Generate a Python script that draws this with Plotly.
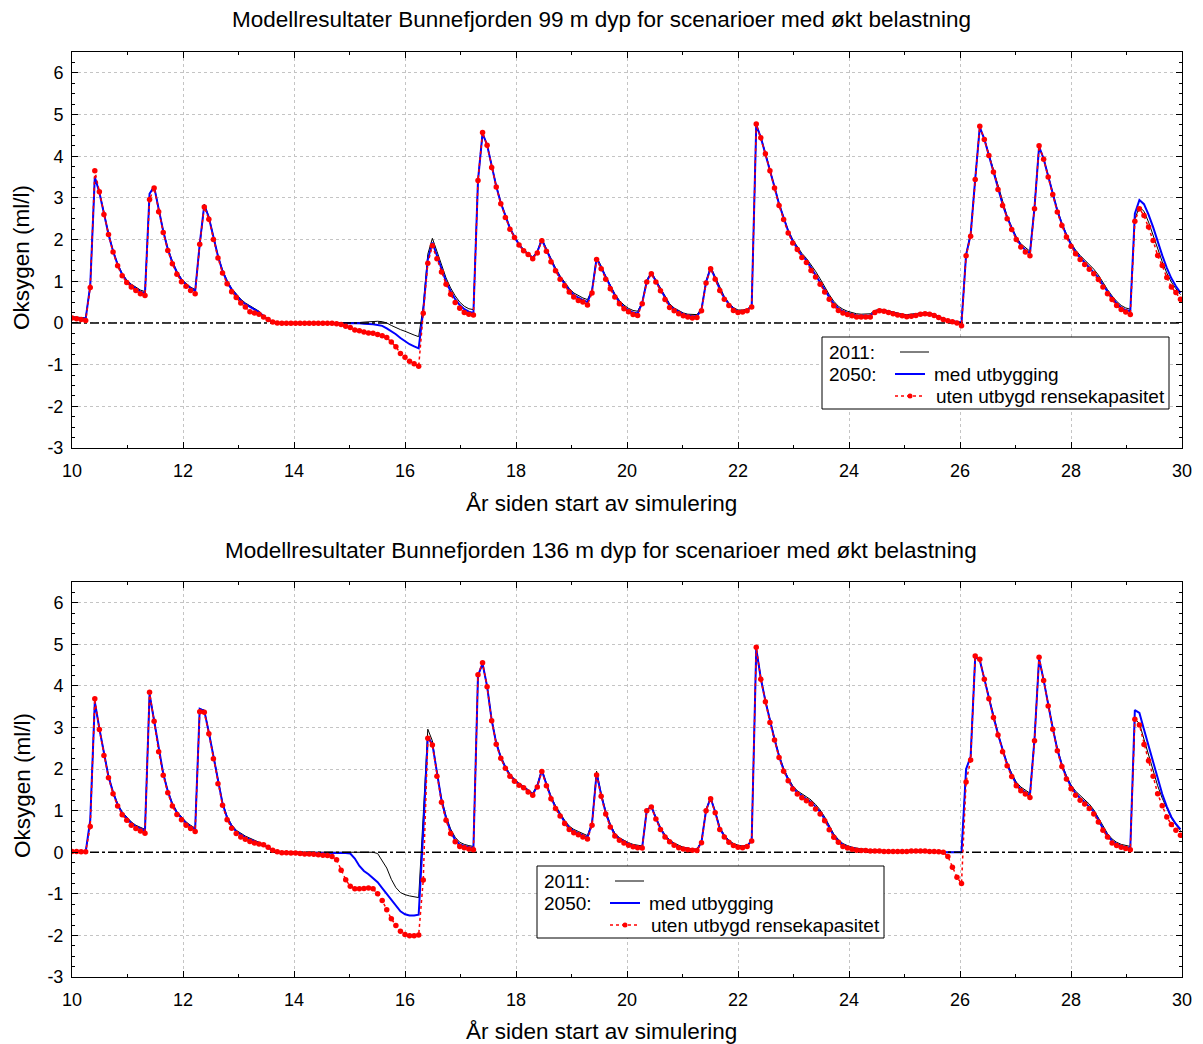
import numpy as np
import plotly.graph_objects as go

# ---------------- text ----------------
TOP_TITLE = "Modellresultater Bunnefjorden 99 m dyp for scenarioer med økt belastning"
BOT_TITLE = "Modellresultater Bunnefjorden 136 m dyp for scenarioer med økt belastning"
X_TITLE = "År siden start av simulering"
Y_TITLE = "Oksygen (ml/l)"
LEG_2011 = "2011:"
LEG_2050 = "2050:"
LEG_MED = "med utbygging"
LEG_UTEN = "uten utbygd rensekapasitet"

X_TICKS = [10, 12, 14, 16, 18, 20, 22, 24, 26, 28, 30]
X_TICK_LABELS = ["10", "12", "14", "16", "18", "20", "22", "24", "26", "28", "30"]
Y_TICKS = [-3, -2, -1, 0, 1, 2, 3, 4, 5, 6]
Y_TICK_LABELS = ["-3", "-2", "-1", "0", "1", "2", "3", "4", "5", "6"]

# time axis: one model output every 30 days, starting at year 10
START_YEAR = 10
STEP_DAYS = 30

# ---------------- data: 99 m ----------------
top_2011 = [
    0.15, 0.14, 0.13, 0.12, 0.90, 3.50, 3.15, 2.62, 2.15, 1.74,
    1.42, 1.19, 1.03, 0.93, 0.85, 0.79, 0.75, 3.10, 3.28, 2.72,
    2.22, 1.80, 1.48, 1.24, 1.06, 0.95, 0.86, 0.80, 1.90, 2.85,
    2.55, 2.05, 1.62, 1.27, 1.02, 0.83, 0.69, 0.57, 0.48, 0.41,
    0.35, 0.28, 0.18, 0.08, 0.02, 0.00, 0.00, 0.00, 0.00, 0.00,
    0.00, 0.00, 0.00, 0.00, 0.00, 0.00, 0.00, 0.00, 0.00, 0.00,
    0.01, 0.01, 0.01, 0.01, 0.02, 0.03, 0.04, 0.04, 0.03, 0.00,
    -0.06, -0.12, -0.16, -0.20, -0.25, -0.29, -0.33, 0.40, 1.65, 2.03,
    1.72, 1.38, 1.08, 0.84, 0.65, 0.50, 0.40, 0.34, 0.32, 3.42,
    4.55, 4.28, 3.76, 3.30, 2.90, 2.57, 2.29, 2.08, 1.90, 1.76,
    1.67, 1.58, 1.72, 2.03, 1.78, 1.53, 1.32, 1.13, 0.97, 0.83,
    0.72, 0.65, 0.60, 0.56, 0.80, 1.58, 1.37, 1.12, 0.90, 0.70,
    0.54, 0.43, 0.35, 0.30, 0.28, 0.50, 1.03, 1.22, 1.03, 0.83,
    0.63, 0.46, 0.36, 0.29, 0.24, 0.21, 0.20, 0.20, 0.35, 1.00,
    1.35, 1.10, 0.84, 0.63, 0.48, 0.37, 0.31, 0.31, 0.33, 0.42,
    4.75, 4.46, 4.08, 3.68, 3.28, 2.87, 2.54, 2.23, 2.00, 1.84,
    1.67, 1.55, 1.40, 1.24, 1.06, 0.86, 0.68, 0.52, 0.40, 0.33,
    0.28, 0.25, 0.22, 0.21, 0.21, 0.22, 0.30, 0.33, 0.32, 0.29,
    0.26, 0.23, 0.21, 0.20, 0.21, 0.22, 0.24, 0.25, 0.24, 0.21,
    0.16, 0.11, 0.07, 0.04, 0.02, 0.01, 1.65, 2.15, 3.45, 4.68,
    4.42, 4.05, 3.66, 3.25, 2.88, 2.56, 2.30, 2.07, 1.90, 1.80,
    1.72, 2.80, 4.22, 3.95, 3.54, 3.13, 2.72, 2.40, 2.13, 1.92,
    1.75, 1.62, 1.51, 1.40, 1.29, 1.15, 0.97, 0.80, 0.65, 0.52,
    0.42, 0.36, 0.33, 2.50, 2.78, 2.68, 2.42, 2.10, 1.76, 1.47,
    1.20, 0.98, 0.82, 0.68,
]
top_2050_med = [
    0.13, 0.12, 0.11, 0.10, 0.90, 3.50, 3.13, 2.60, 2.13, 1.72,
    1.40, 1.16, 1.00, 0.90, 0.82, 0.75, 0.71, 3.10, 3.27, 2.70,
    2.20, 1.77, 1.45, 1.21, 1.03, 0.92, 0.83, 0.76, 1.90, 2.83,
    2.53, 2.03, 1.60, 1.24, 0.99, 0.80, 0.66, 0.54, 0.45, 0.38,
    0.32, 0.26, 0.16, 0.07, 0.02, 0.00, 0.00, 0.00, 0.00, 0.00,
    0.00, 0.00, 0.00, 0.00, 0.00, 0.00, 0.00, 0.00, 0.00, -0.01,
    -0.01, -0.01, -0.01, -0.01, -0.02, -0.02, -0.03, -0.05, -0.07, -0.13,
    -0.19, -0.27, -0.36, -0.44, -0.51, -0.56, -0.61, 0.30, 1.52, 1.93,
    1.62, 1.29, 0.99, 0.76, 0.57, 0.43, 0.33, 0.27, 0.24, 3.42,
    4.55, 4.27, 3.74, 3.28, 2.88, 2.55, 2.27, 2.06, 1.88, 1.74,
    1.65, 1.56, 1.70, 2.00, 1.75, 1.50, 1.28, 1.09, 0.93, 0.79,
    0.67, 0.60, 0.55, 0.50, 0.77, 1.55, 1.33, 1.08, 0.86, 0.66,
    0.50, 0.38, 0.31, 0.25, 0.23, 0.48, 1.00, 1.20, 1.00, 0.80,
    0.60, 0.42, 0.33, 0.26, 0.21, 0.18, 0.16, 0.16, 0.32, 0.98,
    1.32, 1.07, 0.81, 0.60, 0.45, 0.34, 0.28, 0.28, 0.31, 0.40,
    4.75, 4.45, 4.07, 3.66, 3.26, 2.85, 2.51, 2.20, 1.96, 1.80,
    1.62, 1.50, 1.33, 1.17, 1.00, 0.80, 0.62, 0.46, 0.35, 0.28,
    0.24, 0.21, 0.18, 0.17, 0.17, 0.18, 0.27, 0.31, 0.30, 0.27,
    0.24, 0.21, 0.19, 0.17, 0.18, 0.20, 0.22, 0.23, 0.22, 0.19,
    0.14, 0.09, 0.06, 0.04, 0.02, 0.01, 1.63, 2.12, 3.45, 4.70,
    4.41, 4.03, 3.64, 3.22, 2.85, 2.53, 2.27, 2.03, 1.86, 1.75,
    1.67, 2.77, 4.23, 3.94, 3.52, 3.10, 2.69, 2.37, 2.10, 1.88,
    1.70, 1.57, 1.45, 1.34, 1.23, 1.09, 0.91, 0.75, 0.60, 0.47,
    0.37, 0.31, 0.28, 2.62, 2.95, 2.85, 2.60, 2.30, 1.95, 1.62,
    1.32, 1.07, 0.88, 0.72,
]
top_2050_uten = [
    0.12, 0.10, 0.08, 0.06, 0.85, 3.65, 3.15, 2.60, 2.12, 1.70,
    1.37, 1.13, 0.97, 0.86, 0.78, 0.70, 0.66, 2.96, 3.24, 2.67,
    2.17, 1.74, 1.42, 1.17, 0.99, 0.88, 0.78, 0.70, 1.89, 2.78,
    2.49, 2.00, 1.56, 1.20, 0.94, 0.75, 0.61, 0.48, 0.38, 0.27,
    0.24, 0.21, 0.14, 0.08, 0.02, 0.00, -0.01, -0.01, -0.01, -0.01,
    -0.01, -0.01, -0.01, -0.01, -0.01, -0.01, -0.01, -0.01, -0.02, -0.04,
    -0.08, -0.11, -0.17, -0.19, -0.22, -0.24, -0.25, -0.28, -0.31, -0.35,
    -0.46, -0.57, -0.73, -0.82, -0.92, -0.98, -1.04, 0.23, 1.43, 1.85,
    1.54, 1.22, 0.93, 0.69, 0.49, 0.35, 0.25, 0.21, 0.19, 3.42,
    4.57, 4.26, 3.73, 3.26, 2.86, 2.53, 2.25, 2.05, 1.87, 1.73,
    1.64, 1.54, 1.68, 1.97, 1.72, 1.47, 1.25, 1.05, 0.89, 0.74,
    0.62, 0.54, 0.50, 0.43, 0.72, 1.52, 1.30, 1.05, 0.82, 0.62,
    0.46, 0.34, 0.27, 0.20, 0.18, 0.46, 0.98, 1.18, 0.98, 0.77,
    0.56, 0.37, 0.29, 0.22, 0.17, 0.14, 0.12, 0.13, 0.29, 0.96,
    1.30, 1.05, 0.78, 0.57, 0.42, 0.30, 0.25, 0.26, 0.29, 0.38,
    4.77, 4.44, 4.06, 3.65, 3.24, 2.82, 2.48, 2.16, 1.92, 1.76,
    1.57, 1.45, 1.26, 1.10, 0.93, 0.74, 0.57, 0.41, 0.30, 0.24,
    0.20, 0.17, 0.14, 0.14, 0.14, 0.14, 0.25, 0.29, 0.28, 0.25,
    0.22, 0.19, 0.17, 0.15, 0.16, 0.18, 0.21, 0.22, 0.21, 0.18,
    0.13, 0.08, 0.05, 0.03, 0.00, -0.07, 1.61, 2.08, 3.44, 4.72,
    4.40, 4.02, 3.62, 3.20, 2.82, 2.50, 2.24, 2.00, 1.82, 1.70,
    1.61, 2.74, 4.25, 3.93, 3.50, 3.08, 2.66, 2.34, 2.06, 1.84,
    1.66, 1.52, 1.40, 1.29, 1.18, 1.04, 0.86, 0.70, 0.56, 0.42,
    0.32, 0.26, 0.20, 2.44, 2.74, 2.58, 2.30, 1.98, 1.62, 1.38,
    1.09, 0.86, 0.73, 0.57,
]

# ---------------- data: 136 m ----------------
bot_2011 = [
    0.02, 0.02, 0.02, 0.02, 0.75, 3.60, 2.98, 2.37, 1.84, 1.46,
    1.17, 0.97, 0.84, 0.73, 0.65, 0.59, 0.55, 3.80, 3.20, 2.48,
    1.91, 1.49, 1.18, 0.98, 0.85, 0.73, 0.65, 0.58, 3.45, 3.42,
    2.90, 2.30, 1.72, 1.20, 0.86, 0.66, 0.53, 0.45, 0.39, 0.34,
    0.29, 0.24, 0.19, 0.12, 0.05, 0.02, 0.01, 0.01, 0.01, 0.00,
    0.00, 0.00, 0.00, 0.00, 0.00, 0.00, 0.00, 0.00, 0.00, 0.00,
    0.00, 0.00, 0.00, 0.00, 0.00, 0.00, 0.00, -0.03, -0.20, -0.38,
    -0.65, -0.85, -0.97, -1.02, -1.05, -1.07, -1.09, 0.90, 2.96, 2.68,
    1.92, 1.30, 0.87, 0.56, 0.36, 0.24, 0.19, 0.16, 0.14, 4.25,
    4.52, 4.00, 3.20, 2.65, 2.31, 2.07, 1.88, 1.76, 1.66, 1.59,
    1.50, 1.42, 1.62, 2.00, 1.66, 1.35, 1.12, 0.94, 0.77, 0.63,
    0.55, 0.50, 0.45, 0.40, 0.72, 1.95, 1.42, 0.99, 0.68, 0.46,
    0.35, 0.28, 0.23, 0.19, 0.17, 0.15, 1.02, 1.12, 0.84, 0.60,
    0.42, 0.30, 0.22, 0.16, 0.12, 0.10, 0.08, 0.07, 0.28, 1.03,
    1.32, 0.99, 0.60, 0.42, 0.29, 0.21, 0.17, 0.15, 0.17, 0.30,
    4.90, 4.20, 3.66, 3.17, 2.75, 2.34, 2.02, 1.79, 1.60, 1.48,
    1.40, 1.33, 1.26, 1.15, 1.02, 0.85, 0.63, 0.44, 0.31, 0.21,
    0.16, 0.12, 0.10, 0.08, 0.07, 0.06, 0.05, 0.05, 0.04, 0.04,
    0.03, 0.03, 0.03, 0.02, 0.02, 0.02, 0.02, 0.02, 0.01, 0.01,
    0.01, 0.00, 0.00, 0.00, 0.00, 0.00, 2.00, 2.30, 4.70, 4.62,
    4.18, 3.72, 3.28, 2.87, 2.48, 2.15, 1.90, 1.69, 1.57, 1.49,
    1.42, 2.75, 4.65, 4.15, 3.56, 3.01, 2.50, 2.13, 1.84, 1.62,
    1.47, 1.36, 1.27, 1.16, 1.02, 0.83, 0.62, 0.45, 0.32, 0.24,
    0.19, 0.16, 0.14, 3.20, 3.10, 2.72, 2.35, 1.97, 1.60, 1.30,
    1.05, 0.82, 0.66, 0.52,
]
bot_2050_med = [
    0.01, 0.01, 0.01, 0.01, 0.77, 3.62, 2.97, 2.35, 1.82, 1.44,
    1.14, 0.94, 0.81, 0.70, 0.62, 0.56, 0.52, 3.80, 3.18, 2.46,
    1.89, 1.47, 1.15, 0.95, 0.82, 0.70, 0.62, 0.55, 3.45, 3.40,
    2.88, 2.28, 1.70, 1.17, 0.83, 0.63, 0.50, 0.42, 0.36, 0.31,
    0.27, 0.23, 0.18, 0.11, 0.04, 0.01, -0.01, -0.01, -0.01, -0.01,
    -0.02, -0.02, -0.02, -0.02, -0.02, -0.02, -0.02, -0.02, -0.02, -0.02,
    -0.02, -0.03, -0.15, -0.33, -0.45, -0.53, -0.62, -0.72, -0.86, -1.00,
    -1.15, -1.30, -1.42, -1.49, -1.52, -1.52, -1.50, 0.50, 2.78, 2.60,
    1.87, 1.25, 0.82, 0.50, 0.30, 0.19, 0.15, 0.12, 0.10, 4.25,
    4.54, 3.99, 3.18, 2.62, 2.28, 2.04, 1.85, 1.73, 1.63, 1.57,
    1.47, 1.39, 1.59, 1.97, 1.63, 1.32, 1.08, 0.90, 0.73, 0.59,
    0.51, 0.46, 0.41, 0.36, 0.69, 1.90, 1.38, 0.95, 0.64, 0.42,
    0.32, 0.25, 0.20, 0.16, 0.14, 0.12, 1.01, 1.10, 0.82, 0.57,
    0.39, 0.27, 0.19, 0.13, 0.10, 0.08, 0.06, 0.05, 0.25, 1.01,
    1.30, 0.97, 0.57, 0.39, 0.26, 0.18, 0.14, 0.13, 0.15, 0.28,
    4.90, 4.18, 3.64, 3.14, 2.72, 2.31, 1.98, 1.75, 1.56, 1.44,
    1.35, 1.28, 1.21, 1.09, 0.97, 0.80, 0.58, 0.40, 0.27, 0.18,
    0.13, 0.10, 0.08, 0.06, 0.05, 0.04, 0.04, 0.03, 0.03, 0.02,
    0.02, 0.02, 0.02, 0.02, 0.02, 0.02, 0.01, 0.01, 0.01, 0.01,
    0.00, 0.00, 0.00, 0.00, 0.00, 0.00, 2.00, 2.30, 4.70, 4.62,
    4.17, 3.70, 3.26, 2.84, 2.45, 2.11, 1.86, 1.64, 1.52, 1.44,
    1.37, 2.72, 4.66, 4.14, 3.54, 2.98, 2.47, 2.09, 1.80, 1.58,
    1.42, 1.30, 1.21, 1.10, 0.97, 0.78, 0.57, 0.41, 0.27, 0.20,
    0.15, 0.12, 0.10, 3.42, 3.35, 2.95, 2.55, 2.15, 1.75, 1.40,
    1.10, 0.85, 0.68, 0.55,
]
bot_2050_uten = [
    0.02, 0.02, 0.01, 0.01, 0.62, 3.69, 2.95, 2.33, 1.79, 1.41,
    1.11, 0.90, 0.77, 0.65, 0.57, 0.51, 0.46, 3.85, 3.15, 2.42,
    1.85, 1.43, 1.11, 0.91, 0.78, 0.65, 0.57, 0.50, 3.38, 3.37,
    2.85, 2.25, 1.65, 1.13, 0.78, 0.58, 0.45, 0.37, 0.31, 0.26,
    0.22, 0.20, 0.18, 0.12, 0.05, 0.01, -0.01, -0.01, -0.02, -0.02,
    -0.03, -0.04, -0.04, -0.05, -0.06, -0.07, -0.08, -0.10, -0.18, -0.43,
    -0.66, -0.82, -0.88, -0.88, -0.87, -0.86, -0.88, -1.00, -1.16, -1.38,
    -1.60, -1.76, -1.90, -1.98, -2.01, -2.01, -1.99, -0.67, 2.74, 2.58,
    1.83, 1.20, 0.77, 0.45, 0.25, 0.14, 0.11, 0.08, 0.06, 4.27,
    4.56, 3.98, 3.16, 2.60, 2.26, 2.02, 1.83, 1.71, 1.61, 1.55,
    1.45, 1.37, 1.57, 1.94, 1.60, 1.29, 1.05, 0.87, 0.69, 0.55,
    0.47, 0.42, 0.37, 0.32, 0.65, 1.86, 1.35, 0.92, 0.61, 0.39,
    0.29, 0.22, 0.17, 0.13, 0.11, 0.10, 1.00, 1.09, 0.80, 0.55,
    0.37, 0.25, 0.17, 0.11, 0.08, 0.06, 0.05, 0.04, 0.23, 1.00,
    1.29, 0.95, 0.55, 0.37, 0.24, 0.16, 0.12, 0.11, 0.14, 0.27,
    4.93, 4.16, 3.62, 3.12, 2.70, 2.28, 1.95, 1.72, 1.52, 1.40,
    1.31, 1.24, 1.16, 1.04, 0.92, 0.76, 0.54, 0.36, 0.24, 0.14,
    0.10, 0.07, 0.05, 0.04, 0.04, 0.03, 0.03, 0.03, 0.02, 0.02,
    0.02, 0.02, 0.02, 0.02, 0.03, 0.03, 0.03, 0.03, 0.02, 0.02,
    0.01, 0.00, -0.10, -0.36, -0.60, -0.75, 1.69, 2.22, 4.72, 4.64,
    4.16, 3.69, 3.24, 2.82, 2.42, 2.08, 1.82, 1.60, 1.48, 1.40,
    1.32, 2.68, 4.69, 4.13, 3.52, 2.96, 2.44, 2.06, 1.76, 1.53,
    1.37, 1.25, 1.16, 1.05, 0.92, 0.73, 0.53, 0.37, 0.22, 0.16,
    0.12, 0.09, 0.06, 3.20, 3.06, 2.59, 2.20, 1.83, 1.41, 1.12,
    0.85, 0.67, 0.53, 0.41,
]

series_all = [top_2011, top_2050_med, top_2050_uten, bot_2011, bot_2050_med, bot_2050_uten]
n = len(top_2050_uten)
for s in series_all:
    if len(s) != n:
        raise SystemExit("length mismatch: " + str([len(q) for q in series_all]))

years = START_YEAR + np.arange(n) * STEP_DAYS / 365.0

# ---------------- layout geometry (pixels) ----------------
W, H = 1203, 1044
ML, MR, MT, MB = 72, 21, 52, 67
PW = W - ML - MR
PH = H - MT - MB


def fx(p):
    return (p - ML) / PW


def fy(p):
    return 1 - (p - MT) / PH


X_RANGE = [10, 30]
Y_RANGE = [-3, 6.5]
FONT = "Liberation Sans, Arial, sans-serif"
TICK_SIZE = 18
TITLE_SIZE = 22.5
LEG_SIZE = 19

fig = go.Figure()

panels = [
    ("x", "y", top_2011, top_2050_med, top_2050_uten),
    ("x2", "y2", bot_2011, bot_2050_med, bot_2050_uten),
]
for xa, ya, s2011, smed, suten in panels:
    fig.add_trace(go.Scatter(x=years, y=s2011, mode="lines", xaxis=xa, yaxis=ya,
                             line=dict(color="#000000", width=1)))
    fig.add_trace(go.Scatter(x=years, y=smed, mode="lines", xaxis=xa, yaxis=ya,
                             line=dict(color="#0000ff", width=2)))
    fig.add_trace(go.Scatter(x=X_RANGE, y=[0, 0], mode="lines", xaxis=xa, yaxis=ya,
                             line=dict(color="#000000", width=1.5, dash="dashdot")))
    fig.add_trace(go.Scatter(x=years, y=suten, mode="lines+markers", xaxis=xa, yaxis=ya,
                             line=dict(color="#ff0000", width=1.5, dash="dot"),
                             marker=dict(color="#ff0000", size=5.5)))

axis_common = dict(
    showline=True, linecolor="#000000", linewidth=1, mirror="allticks",
    ticks="inside", ticklen=6, tickcolor="#000000", tickwidth=1,
    showgrid=True, gridcolor="#c4c4c4", griddash="dot", gridwidth=1,
    zeroline=False, tickfont=dict(size=TICK_SIZE, color="#000000", family=FONT),
)
xcommon = dict(axis_common, range=X_RANGE, tickmode="array",
               tickvals=X_TICKS, ticktext=X_TICK_LABELS, ticklabelstandoff=6,
               minor=dict(dtick=1, tick0=10, ticks="inside", ticklen=3, tickcolor="#000000", showgrid=False))
ycommon = dict(axis_common, range=Y_RANGE, tickmode="array",
               tickvals=Y_TICKS, ticktext=Y_TICK_LABELS, ticklabelstandoff=4,
               minor=dict(dtick=0.25, tick0=0, ticks="inside", ticklen=3, tickcolor="#000000", showgrid=False))

fig.update_layout(
    width=W, height=H,
    margin=dict(l=ML, r=MR, t=MT, b=MB),
    paper_bgcolor="#ffffff", plot_bgcolor="#ffffff",
    font=dict(family=FONT, color="#000000"),
    showlegend=False,
    xaxis=dict(xcommon, domain=[0, 1], anchor="y"),
    yaxis=dict(ycommon, domain=[fy(448), 1], anchor="x"),
    xaxis2=dict(xcommon, domain=[0, 1], anchor="y2"),
    yaxis2=dict(ycommon, domain=[0, fy(582)], anchor="x2"),
)

annotations = []
shapes = []


def text(x, y, s, size, xanchor="center", angle=0):
    annotations.append(dict(x=fx(x), y=fy(y), xref="paper", yref="paper", text=s,
                            showarrow=False, xanchor=xanchor, yanchor="middle",
                            textangle=angle, font=dict(size=size, family=FONT, color="#000000")))


# titles
text(601, 20, TOP_TITLE, TITLE_SIZE)
text(601, 550, BOT_TITLE, TITLE_SIZE)
text(601, 503, X_TITLE, TITLE_SIZE)
text(601, 1031, X_TITLE, TITLE_SIZE)
text(22, 258, Y_TITLE, TITLE_SIZE, angle=-90)
text(22, 786, Y_TITLE, TITLE_SIZE, angle=-90)


def legend(dx, dy):
    shapes.append(dict(type="rect", xref="paper", yref="paper",
                       x0=fx(822 + dx), x1=fx(1169 + dx), y0=fy(409 + dy), y1=fy(337 + dy),
                       line=dict(color="#000000", width=1), fillcolor="#ffffff", layer="above"))
    text(827 + dx, 352 + dy, LEG_2011, LEG_SIZE, xanchor="left")
    text(827 + dx, 374 + dy, LEG_2050, LEG_SIZE, xanchor="left")
    text(932 + dx, 374 + dy, LEG_MED, LEG_SIZE, xanchor="left")
    text(934 + dx, 396 + dy, LEG_UTEN, LEG_SIZE, xanchor="left")
    shapes.append(dict(type="line", xref="paper", yref="paper",
                       x0=fx(900 + dx), x1=fx(929 + dx), y0=fy(352 + dy), y1=fy(352 + dy),
                       line=dict(color="#000000", width=1), layer="above"))
    shapes.append(dict(type="line", xref="paper", yref="paper",
                       x0=fx(895 + dx), x1=fx(925 + dx), y0=fy(374 + dy), y1=fy(374 + dy),
                       line=dict(color="#0000ff", width=2), layer="above"))
    shapes.append(dict(type="line", xref="paper", yref="paper",
                       x0=fx(895 + dx), x1=fx(925 + dx), y0=fy(396 + dy), y1=fy(396 + dy),
                       line=dict(color="#ff0000", width=1.5, dash="dot"), layer="above"))
    shapes.append(dict(type="circle", xref="paper", yref="paper",
                       x0=fx(907.5 + dx), x1=fx(912.5 + dx), y0=fy(398.5 + dy), y1=fy(393.5 + dy),
                       line=dict(color="#ff0000", width=0), fillcolor="#ff0000", layer="above"))


legend(0, 0)
legend(-285, 529)

fig.update_layout(annotations=annotations, shapes=shapes)
fig.write_html("out.html", config={"displayModeBar": False})

# remove the browser's default page margin so the figure sits at the top-left corner
with open("out.html", "r", encoding="utf-8") as f:
    page = f.read()
page = page.replace("<body>", '<body style="margin:0;padding:0;overflow:hidden;">', 1)
with open("out.html", "w", encoding="utf-8") as f:
    f.write(page)
